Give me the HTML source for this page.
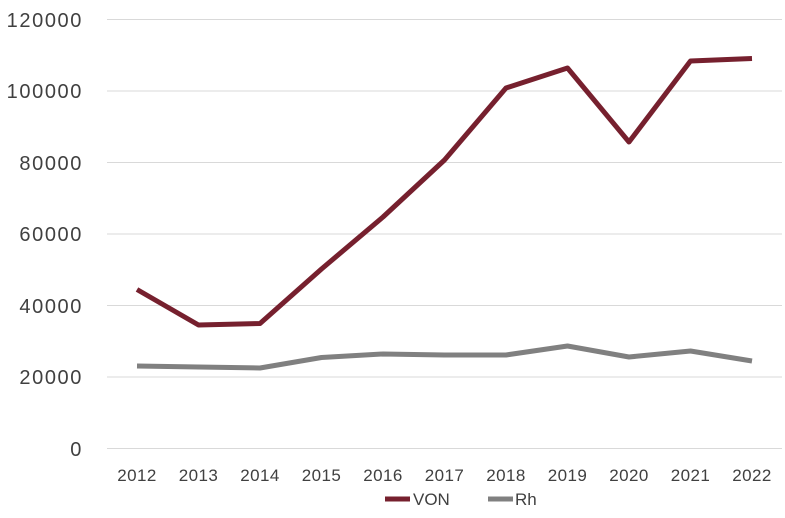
<!DOCTYPE html>
<html><head><meta charset="utf-8"><style>
body{margin:0;background:#fff;}
svg{display:block;font-family:"Liberation Sans",sans-serif;}
</style></head><body>
<svg width="785" height="518" viewBox="0 0 785 518">
<g stroke="#d9d9d9" stroke-width="1">
<line x1="107" y1="19.5" x2="782" y2="19.5"/>
<line x1="107" y1="91" x2="782" y2="91"/>
<line x1="107" y1="162.5" x2="782" y2="162.5"/>
<line x1="107" y1="234" x2="782" y2="234"/>
<line x1="107" y1="305.5" x2="782" y2="305.5"/>
<line x1="107" y1="377" x2="782" y2="377"/>
<line x1="107" y1="448.5" x2="782" y2="448.5"/>
</g>
<g font-size="20" fill="#404040" text-anchor="end" letter-spacing="1.6">
<text x="83" y="27">120000</text>
<text x="83" y="98">100000</text>
<text x="83" y="170">80000</text>
<text x="83" y="241">60000</text>
<text x="83" y="313">40000</text>
<text x="83" y="384">20000</text>
<text x="83" y="456">0</text>
</g>
<g font-size="17" fill="#404040" text-anchor="middle" letter-spacing="0.4">
<text x="137" y="481">2012</text><text x="198.5" y="481">2013</text><text x="260" y="481">2014</text>
<text x="321.5" y="481">2015</text><text x="383" y="481">2016</text><text x="444.5" y="481">2017</text>
<text x="506" y="481">2018</text><text x="567.5" y="481">2019</text><text x="629" y="481">2020</text>
<text x="690.5" y="481">2021</text><text x="752" y="481">2022</text>
</g>
<polyline fill="none" stroke="#808080" stroke-width="5" stroke-linejoin="round" points="137,366 198.5,367 260,368 321.5,357.5 383,354 444.5,355 506,355 567.5,346 629,357 690.5,351 752,361"/>
<polyline fill="none" stroke="#76202e" stroke-width="5" stroke-linejoin="round" points="137,289.5 198.5,325 260,323.5 321.5,269 383,217 444.5,160 506,88 567.5,68 629,142 690.5,61 752,58.5"/>
<line x1="385" y1="499" x2="410" y2="499" stroke="#76202e" stroke-width="5"/>
<text x="413" y="505" font-size="17" fill="#404040">VON</text>
<line x1="488" y1="499" x2="513" y2="499" stroke="#808080" stroke-width="5"/>
<text x="515" y="505" font-size="17" fill="#404040">Rh</text>
</svg>
</body></html>
